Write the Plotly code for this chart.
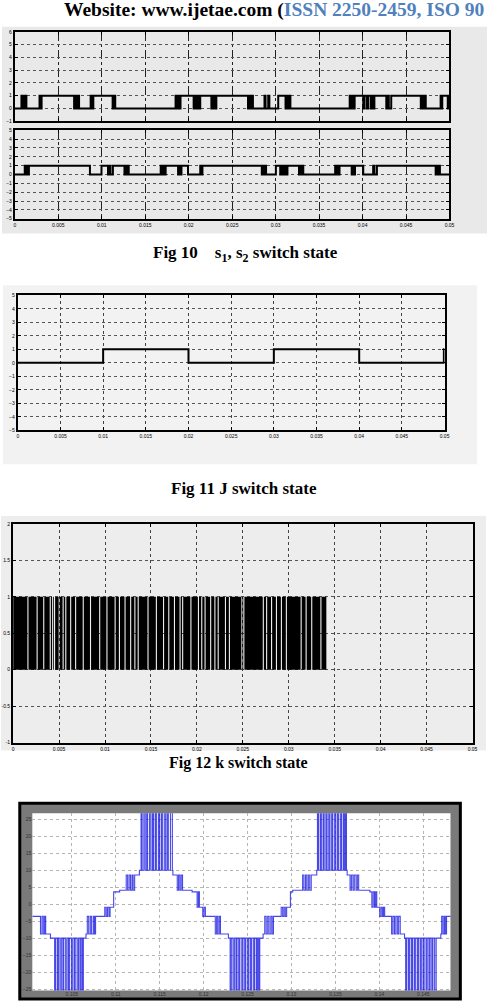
import plotly.graph_objects as go

W, H = 494, 1006

# ---------------- data ----------------
# Fig 10: switching instants (ms); every instant toggles the 0/1 state, start state 0
s1_edges_ms = [0.76, 0.90, 1.02, 1.16, 1.25, 1.33,
               2.84, 2.97, 3.08,
               6.82, 6.96, 7.10, 7.24, 7.39,
               8.72, 8.86, 9.03,
               11.25, 11.40, 11.55,
               18.49, 18.64, 18.80, 18.93, 19.06,
               20.57, 20.72, 20.87, 21.02, 21.17, 21.33,
               22.61, 22.78, 22.95, 23.18,
               26.82, 26.97, 27.12, 27.26, 27.39,
               28.72, 28.84, 29.15, 29.28,
               30.30,
               31.14, 31.28, 31.43, 31.57, 31.70,
               38.52, 38.67, 38.82, 38.95, 39.09,
               40.08, 40.22, 40.50, 40.65, 40.95, 41.10, 41.22, 41.36,
               42.73, 42.88, 43.02, 43.30,
               46.70, 46.85, 47.00, 47.14, 47.27,
               48.98, 49.10, 49.17,
               49.80, 49.90]
s2_edges_ms = [1.14, 1.28, 1.42, 1.52, 1.62,
               8.64,
               9.97,
               10.72, 10.86, 11.00, 11.28,
               12.61, 12.75, 12.89, 13.00, 13.10,
               16.78, 16.92, 17.06, 17.20, 17.35,
               18.78, 18.92, 19.04, 19.17,
               19.92,
               21.33, 21.46, 21.58,
               28.41, 28.55, 28.69, 28.80, 28.90,
               30.03,
               30.53, 30.68,
               30.91, 31.05, 31.19, 31.36,
               32.69, 32.83, 32.97, 33.08, 33.18,
               36.85, 36.99, 37.13, 37.24, 37.35,
               38.75, 38.89, 39.01, 39.13,
               40.08,
               41.22, 41.36, 41.65,
               48.41, 48.55, 48.69, 48.80, 48.90]
# Fig 11: J switch instants (ms), start state 0
j_edges_ms = [10.0, 20.0, 30.0, 40.0, 49.92]
# Fig 12: k switch - on between 0 and 1 with short off gaps (ms)
k_gaps_ms = [1.55, 2.55, 3.27, 3.98, 4.24, 4.45, 4.95, 5.38, 5.67, 6.20, 6.74, 7.57,
             8.36, 9.36, 10.15, 11.04, 11.51, 12.12, 12.73, 13.19, 13.55, 14.62,
             15.53, 16.31, 16.88, 17.50, 18.11, 18.39, 19.29, 20.11, 20.47, 20.83,
             21.44, 21.90, 22.26, 23.05, 23.48, 24.84, 25.05, 27.17, 27.53, 28.07,
             28.60, 29.14, 29.68, 31.29, 31.83, 32.44, 33.44]
k_gap_width_ms = 0.12
k_end_ms = 34.09
# Fig 13: output voltage steps (time ms, level)
vo_steps = [
    (100.50, -3.6),
    (101.43, -8.8), (101.60, -3.6), (101.75, -8.8), (101.90, -3.6), (102.02, -8.8),
    (102.56, -10),
    (103.04, -30), (103.15, -10), (103.35, -30), (103.47, -10), (103.65, -30), (103.80, -10),
    (103.98, -30), (104.08, -10), (104.30, -30), (104.45, -10), (104.62, -30), (104.72, -10),
    (104.95, -30), (105.10, -10), (105.28, -30), (105.38, -10), (105.60, -30), (105.75, -10),
    (105.92, -30), (106.05, -10), (106.20, -30), (106.31, -10),
    (106.61, -8.8),
    (106.76, -3.6), (106.92, -8.8), (107.10, -3.6), (107.25, -8.8), (107.45, -3.6), (107.58, -8.8), (107.70, -3.6),
    (108.75, -0.9), (108.90, -3.6), (109.05, -0.9), (109.22, -3.6), (109.35, -0.9),
    (109.76, 3.6),
    (110.44, 4.1),
    (111.19, 8.6), (111.35, 4.1), (111.52, 8.6), (111.68, 4.1), (111.85, 8.6), (111.98, 4.1), (112.15, 8.6),
    (112.69, 10),
    (112.88, 30), (113.00, 10), (113.20, 30), (113.35, 10), (113.52, 30), (113.62, 10),
    (113.85, 30), (114.00, 10), (114.18, 30), (114.30, 10), (114.50, 30), (114.62, 10),
    (114.85, 30), (114.98, 10), (115.18, 30), (115.30, 10), (115.52, 30), (115.68, 10),
    (115.85, 30), (115.98, 10), (116.22, 30), (116.44, 10),
    (116.50, 8.6),
    (117.00, 4.1), (117.15, 8.6), (117.30, 4.1), (117.45, 8.6), (117.60, 4.1),
    (118.69, 3.6),
    (119.26, -0.9), (119.40, 3.6), (119.52, -0.9),
    (119.90, -3.6), (120.05, -0.9), (120.20, -3.6),
    (121.33, -8.8), (121.48, -3.6), (121.62, -8.8), (121.78, -3.6), (121.92, -8.8),
    (122.82, -10),
    (123.02, -30), (123.15, -10), (123.35, -30), (123.50, -10), (123.68, -30), (123.80, -10),
    (124.00, -30), (124.12, -10), (124.35, -30), (124.48, -10), (124.68, -30), (124.80, -10),
    (125.02, -30), (125.15, -10), (125.35, -30), (125.48, -10), (125.70, -30), (125.82, -10),
    (126.02, -30), (126.15, -10), (126.28, -30), (126.39, -10),
    (126.77, -8.8),
    (126.96, -3.6), (127.12, -8.8), (127.30, -3.6), (127.45, -8.8), (127.65, -3.6), (127.80, -8.8), (127.95, -3.6),
    (128.83, -0.9), (129.00, -3.6), (129.15, -0.9), (129.30, -3.6), (129.45, -0.9),
    (129.88, 3.6),
    (130.14, 4.1),
    (131.27, 8.6), (131.42, 4.1), (131.60, 8.6), (131.75, 4.1), (131.92, 8.6), (132.08, 4.1), (132.25, 8.6),
    (132.88, 10),
    (132.96, 30), (133.08, 10), (133.28, 30), (133.40, 10), (133.60, 30), (133.72, 10),
    (133.92, 30), (134.05, 10), (134.25, 30), (134.38, 10), (134.58, 30), (134.70, 10),
    (134.92, 30), (135.05, 10), (135.25, 30), (135.38, 10), (135.60, 30), (135.72, 10),
    (135.92, 30), (136.05, 10), (136.15, 30), (136.26, 10),
    (136.34, 8.6),
    (136.67, 4.1), (136.82, 8.6), (137.00, 4.1), (137.15, 8.6), (137.35, 4.1), (137.50, 8.6), (137.65, 4.1),
    (138.93, 3.6),
    (139.15, -0.9), (139.30, 3.6), (139.45, -0.9), (139.58, 3.6), (139.71, -0.9),
    (140.05, -3.6), (140.20, -0.9), (140.35, -3.6), (140.48, -0.9), (140.61, -3.6),
    (141.40, -8.8), (141.55, -3.6), (141.72, -8.8), (141.88, -3.6), (142.05, -8.8), (142.20, -3.6), (142.38, -8.8),
    (142.87, -10),
    (143.00, -30), (143.12, -10), (143.32, -30), (143.45, -10), (143.65, -30), (143.78, -10),
    (143.98, -30), (144.10, -10), (144.32, -30), (144.45, -10), (144.65, -30), (144.78, -10),
    (144.98, -30), (145.10, -10), (145.32, -30), (145.45, -10), (145.65, -30), (145.78, -10),
    (145.98, -30), (146.10, -10), (146.30, -30), (146.47, -10),
    (147.00, -8.8),
    (147.10, -3.6), (147.25, -8.8), (147.40, -3.6), (147.52, -8.8), (147.65, -3.6),
    (148.30, -3.6),
]

t_ticks_s = [0, 0.005, 0.01, 0.015, 0.02, 0.025, 0.03, 0.035, 0.04, 0.045, 0.05]
t_tick_text = ["0", "0.005", "0.01", "0.015", "0.02", "0.025", "0.03", "0.035", "0.04", "0.045", "0.05"]
y10a_ticks = [-1, 0, 1, 2, 3, 4, 5, 6]
y5_ticks = [-5, -4, -3, -2, -1, 0, 1, 2, 3, 4, 5]
y12_ticks = [-1, -0.5, 0, 0.5, 1, 1.5, 2]
y12_text = ["-1", "-0.5", "0", "0.5", "1", "1.5", "2"]
vo_x_ticks = [0.105, 0.11, 0.115, 0.12, 0.125, 0.13, 0.135, 0.14, 0.145]
vo_x_text = ["0.105", "0.11", "0.115", "0.12", "0.125", "0.13", "0.135", "0.14", "0.145"]
vo_y_ticks = [-25, -20, -15, -10, -5, 0, 5, 10, 15, 20, 25]


# ---------------- helpers ----------------
def toggle_wave(edges, start, t_end):
    xs, ys, v = [0.0], [start], start
    for e in edges:
        v = 1 - v
        xs.append(e)
        ys.append(v)
    xs.append(t_end)
    ys.append(v)
    return [x / 1000 for x in xs], ys


def gap_wave(gaps, width, t_end):
    xs, ys = [0.0], [1]
    for g in gaps:
        xs += [g, g + width]
        ys += [0, 1]
    xs.append(t_end)
    ys.append(0)
    return [x / 1000 for x in xs], ys


def xd(l, r):
    return [l / W, r / W]


def yd(top, bottom):
    return [1 - bottom / H, 1 - top / H]


fig = go.Figure()

x1, y1 = toggle_wave(s1_edges_ms, 0, 50.0)
x2, y2 = toggle_wave(s2_edges_ms, 0, 50.0)
xj, yj = toggle_wave(j_edges_ms, 0, 50.0)
xk, yk = gap_wave(k_gaps_ms, k_gap_width_ms, k_end_ms)
xv = [p[0] / 1000 for p in vo_steps]
yv = [p[1] for p in vo_steps]

fig.add_trace(go.Scatter(x=x1, y=y1, mode="lines", line=dict(color="black", width=2, shape="hv"),
                         xaxis="x", yaxis="y", showlegend=False, hoverinfo="skip"))
fig.add_trace(go.Scatter(x=x2, y=y2, mode="lines", line=dict(color="black", width=2, shape="hv"),
                         xaxis="x2", yaxis="y2", showlegend=False, hoverinfo="skip"))
fig.add_trace(go.Scatter(x=xj, y=yj, mode="lines", line=dict(color="black", width=2, shape="hv"),
                         xaxis="x3", yaxis="y3", showlegend=False, hoverinfo="skip"))
fig.add_trace(go.Scatter(x=xk, y=yk, mode="lines", line=dict(color="black", width=0, shape="hv"),
                         fill="tozeroy", fillcolor="black",
                         xaxis="x4", yaxis="y4", showlegend=False, hoverinfo="skip"))
fig.add_trace(go.Scatter(x=xv, y=yv, mode="lines", line=dict(color="rgba(25,25,225,0.8)", width=1.1, shape="hv"),
                         xaxis="x5", yaxis="y5", showlegend=False, hoverinfo="skip"))

tickfont = dict(family="Liberation Sans", size=5, color="black")


def matlab_x(domain, anchor, show_labels, rng, vals, text, gridc="#333333", dash="dot"):
    return dict(domain=domain, anchor=anchor, range=rng, tickvals=vals, ticktext=text,
                showticklabels=show_labels, showgrid=True, gridcolor=gridc, griddash=dash, gridwidth=1,
                showline=True, linecolor="black", linewidth=2, mirror="ticks", ticks="inside",
                ticklen=3, tickcolor="black", tickwidth=1, tickfont=tickfont, zeroline=False)


def matlab_y(domain, anchor, rng, vals, text=None):
    d = dict(domain=domain, anchor=anchor, range=rng, tickvals=vals,
             showgrid=True, gridcolor="#555555", griddash="dot", gridwidth=1,
             showline=True, linecolor="black", linewidth=2, mirror="ticks", ticks="inside",
             ticklen=3, tickcolor="black", tickwidth=1, tickfont=tickfont, zeroline=False)
    if text is not None:
        d["ticktext"] = text
    return d


layout = dict(
    width=W, height=H, margin=dict(l=0, r=0, t=0, b=0),
    paper_bgcolor="white", plot_bgcolor="rgba(0,0,0,0)", showlegend=False,
    xaxis=matlab_x(xd(14, 454), "y", False, [0, 0.05], t_ticks_s, t_tick_text, "#222222", "dashdot"),
    yaxis=matlab_y(yd(29, 119), "x", [-1, 6], y10a_ticks),
    xaxis2=matlab_x(xd(14, 454), "y2", True, [0, 0.05], t_ticks_s, t_tick_text, "#222222", "dashdot"),
    yaxis2=matlab_y(yd(128, 217), "x2", [-5, 5], y5_ticks),
    xaxis3=matlab_x(xd(17, 449), "y3", True, [0, 0.05], t_ticks_s, t_tick_text, "#444444", "dot"),
    yaxis3=matlab_y(yd(294, 430), "x3", [-5, 5], y5_ticks),
    xaxis4=matlab_x(xd(12.3, 477.3), "y4", True, [0, 0.05], t_ticks_s, t_tick_text, "#444444", "dot"),
    yaxis4=matlab_y(yd(524, 744), "x4", [-1, 2], y12_ticks, y12_text),
    xaxis5=dict(domain=xd(31.7, 455), anchor="y5", range=[0.1005, 0.1481], tickvals=vo_x_ticks,
                ticktext=vo_x_text, showgrid=True, gridcolor="#b5b5b5", griddash="dot", gridwidth=1,
                showline=False, ticks="", tickfont=dict(family="Liberation Sans", size=5, color="#333333"),
                zeroline=False),
    yaxis5=dict(domain=yd(815, 993.3), anchor="x5", range=[-25.4, 26.8], tickvals=vo_y_ticks,
                showgrid=True, gridcolor="#b5b5b5", griddash="dot", gridwidth=1,
                showline=False, ticks="", tickfont=dict(family="Liberation Sans", size=5, color="#333333"),
                zeroline=False),
)


def prect(x0, y0, x1_, y1_, fill, line_color=None, line_width=0):
    return dict(type="rect", xref="paper", yref="paper", layer="below",
                x0=x0 / W, x1=x1_ / W, y0=1 - y1_ / H, y1=1 - y0 / H, fillcolor=fill,
                line=dict(color=line_color or fill, width=line_width))


layout["shapes"] = [
    prect(1, 24, 492, 232, "#e9e9e9"),
    prect(2, 284, 482, 464, "#f2f2f2"),
    prect(0, 516, 491, 752, "#ededed"),
    prect(19, 805, 465, 1002, "#7a7a7a", "black", 3),
    prect(31.7, 815, 455, 993.3, "white"),
]

serif = "Liberation Serif"
nb = "\u00a0"
layout["annotations"] = [
    dict(xref="paper", yref="paper", x=62 / W, y=1 - 7 / H, xanchor="left", yanchor="middle",
         showarrow=False, font=dict(family=serif, size=19.5, color="black"),
         text="<b>Website: www.ijetae.com (<span style='color:#4f81bd'>ISSN 2250-2459, ISO 90</span></b>"),
    dict(xref="paper", yref="paper", x=247.5 / W, y=1 - 253 / H, xanchor="center", yanchor="middle",
         showarrow=False, font=dict(family=serif, size=17, color="black"),
         text="<b>Fig 10" + nb * 4 + "s<sub>1</sub>, s<sub>2</sub> switch state</b>"),
    dict(xref="paper", yref="paper", x=246 / W, y=1 - 488 / H, xanchor="center", yanchor="middle",
         showarrow=False, font=dict(family=serif, size=17, color="black"),
         text="<b>Fig 11 J switch state</b>"),
    dict(xref="paper", yref="paper", x=240 / W, y=1 - 765 / H, xanchor="center", yanchor="middle",
         showarrow=False, font=dict(family=serif, size=16, color="black"),
         text="<b>Fig 12 k switch state</b>"),
]

fig.update_layout(**layout)
fig.write_html("out.html")
